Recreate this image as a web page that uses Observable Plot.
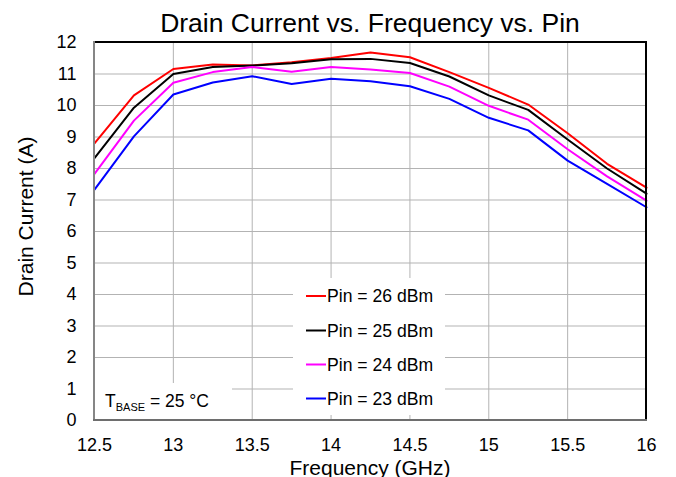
<!DOCTYPE html>
<html><head><meta charset="utf-8">
<script src="https://cdn.jsdelivr.net/npm/d3@7"></script>
<script src="https://cdn.jsdelivr.net/npm/@observablehq/plot@0.6"></script>
<style>body{margin:0;background:#fff;} svg{display:block}</style>
</head><body><div id="chart"></div>
<script>
// Frequency (GHz)
const freq = [12.5, 12.75, 13, 13.25, 13.5, 13.75, 14, 14.25, 14.5, 14.75, 15, 15.25, 15.5, 15.75, 16];
// Drain current (A) per input power
const pin26 = [8.80, 10.32, 11.16, 11.30, 11.27, 11.37, 11.51, 11.68, 11.53, 11.06, 10.56, 10.03, 9.12, 8.15, 7.39];
const pin25 = [8.33, 9.93, 11.00, 11.22, 11.27, 11.34, 11.47, 11.48, 11.35, 10.92, 10.32, 9.86, 8.92, 8.00, 7.20];
const pin24 = [7.83, 9.52, 10.72, 11.06, 11.22, 11.07, 11.22, 11.14, 11.03, 10.60, 9.99, 9.55, 8.61, 7.75, 6.98];
const pin23 = [7.33, 9.02, 10.35, 10.73, 10.93, 10.68, 10.85, 10.77, 10.61, 10.21, 9.61, 9.21, 8.25, 7.51, 6.77];

const seriesNames = ["Pin = 26 dBm", "Pin = 25 dBm", "Pin = 24 dBm", "Pin = 23 dBm"];
const seriesColors = ["#ff0000", "#000000", "#ff00ff", "#0000ff"];
const seriesValues = [pin26, pin25, pin24, pin23];

const xTicks = [12.5, 13, 13.5, 14, 14.5, 15, 15.5, 16];
const yTicks = [0, 1, 2, 3, 4, 5, 6, 7, 8, 9, 10, 11, 12];
const xGrid = [13, 13.5, 14, 14.5, 15, 15.5];
const yGrid = [1, 2, 3, 4, 5, 6, 7, 8, 9, 10, 11];

const titleText = "Drain Current vs. Frequency vs. Pin";
const xLabel = "Frequency (GHz)";
const yLabel = "Drain Current (A)";

const rows = seriesNames.flatMap((s, i) => freq.map((f, j) => ({series: s, freq: f, current: seriesValues[i][j]})));

const W = 676, H = 477, mL = 94, mR = 30, mT = 42, mB = 57;
const FONT = "Liberation Sans, Arial, Helvetica, sans-serif";

const plot = Plot.plot({
  width: W, height: H,
  marginLeft: mL, marginRight: mR, marginTop: mT, marginBottom: mB,
  style: {fontFamily: FONT, fontSize: "18px", background: "#fff", color: "#000", overflow: "visible"},
  x: {domain: [12.5, 16]},
  y: {domain: [0, 12]},
  color: {domain: seriesNames, range: seriesColors},
  marks: [
    Plot.gridX(xGrid, {stroke: "#b3b3b3", strokeOpacity: 1, strokeWidth: 1}),
    Plot.gridY(yGrid, {stroke: "#b3b3b3", strokeOpacity: 1, strokeWidth: 1}),
    Plot.axisX(xTicks, {tickSize: 0, tickPadding: 18, fontSize: 18, label: null, tickFormat: d => String(d)}),
    Plot.axisY(yTicks, {tickSize: 0, tickPadding: 18, fontSize: 18, label: null, tickFormat: d => String(d)}),
    Plot.line(rows, {x: "freq", y: "current", z: "series", stroke: "series", strokeWidth: 2})
  ]
});

document.getElementById("chart").appendChild(plot);

const svg = d3.select(plot);
const x0 = mL, x1 = W - mR, y0 = mT, y1 = H - mB;

// Title
svg.append("text").attr("x", (x0 + x1) / 2).attr("y", 31.5)
  .attr("text-anchor", "middle").attr("font-family", FONT).attr("font-size", 26.5).attr("fill", "#000")
  .text(titleText);
// Axis labels
svg.append("text").attr("x", (x0 + x1) / 2).attr("y", 475)
  .attr("text-anchor", "middle").attr("font-family", FONT).attr("font-size", 21).attr("fill", "#000")
  .text(xLabel);
svg.append("text").attr("transform", "translate(32.5,216.5) rotate(-90)")
  .attr("text-anchor", "middle").attr("font-family", FONT).attr("font-size", 21).attr("fill", "#000")
  .text(yLabel);

// Legend
const lg = svg.append("g");
lg.append("rect").attr("x", 293).attr("y", 278).attr("width", 152).attr("height", 137).attr("fill", "#fff");
const rowY = [296, 330.5, 364.5, 398.5];
seriesNames.forEach((s, i) => {
  lg.append("line").attr("x1", 306).attr("x2", 326).attr("y1", rowY[i]).attr("y2", rowY[i])
    .attr("stroke", seriesColors[i]).attr("stroke-width", 2);
  lg.append("text").attr("x", 327).attr("y", rowY[i] + 6.4).attr("text-anchor", "start")
    .attr("font-family", FONT).attr("font-size", 17.6).attr("fill", "#000").text(s);
});

// T_BASE annotation
const tb = svg.append("g");
tb.append("rect").attr("x", x0 + 1).attr("y", 383).attr("width", 137).attr("height", y1 - 383).attr("fill", "#fff");
const tt = tb.append("text").attr("x", 105).attr("y", 407.3).attr("text-anchor", "start")
  .attr("font-family", FONT).attr("font-size", 17.5).attr("fill", "#000");
tt.append("tspan").text("T");
tt.append("tspan").attr("font-size", 11).attr("dy", 3.6).text("BASE");
tt.append("tspan").attr("dy", -3.6).text(" = 25 \u00B0C");

// Frame
svg.append("line").attr("x1", x0).attr("x2", x1 + 1).attr("y1", y0).attr("y2", y0).attr("stroke", "#000").attr("stroke-width", 2);
svg.append("line").attr("x1", x1).attr("x2", x1).attr("y1", y0).attr("y2", y1).attr("stroke", "#000").attr("stroke-width", 2);
svg.append("line").attr("x1", x0).attr("x2", x0).attr("y1", y0 - 1).attr("y2", y1 + 1).attr("stroke", "#868686").attr("stroke-width", 2);
svg.append("line").attr("x1", x0 - 1).attr("x2", x1 + 1).attr("y1", y1).attr("y2", y1).attr("stroke", "#6e6e6e").attr("stroke-width", 2);
</script>
</body></html>
